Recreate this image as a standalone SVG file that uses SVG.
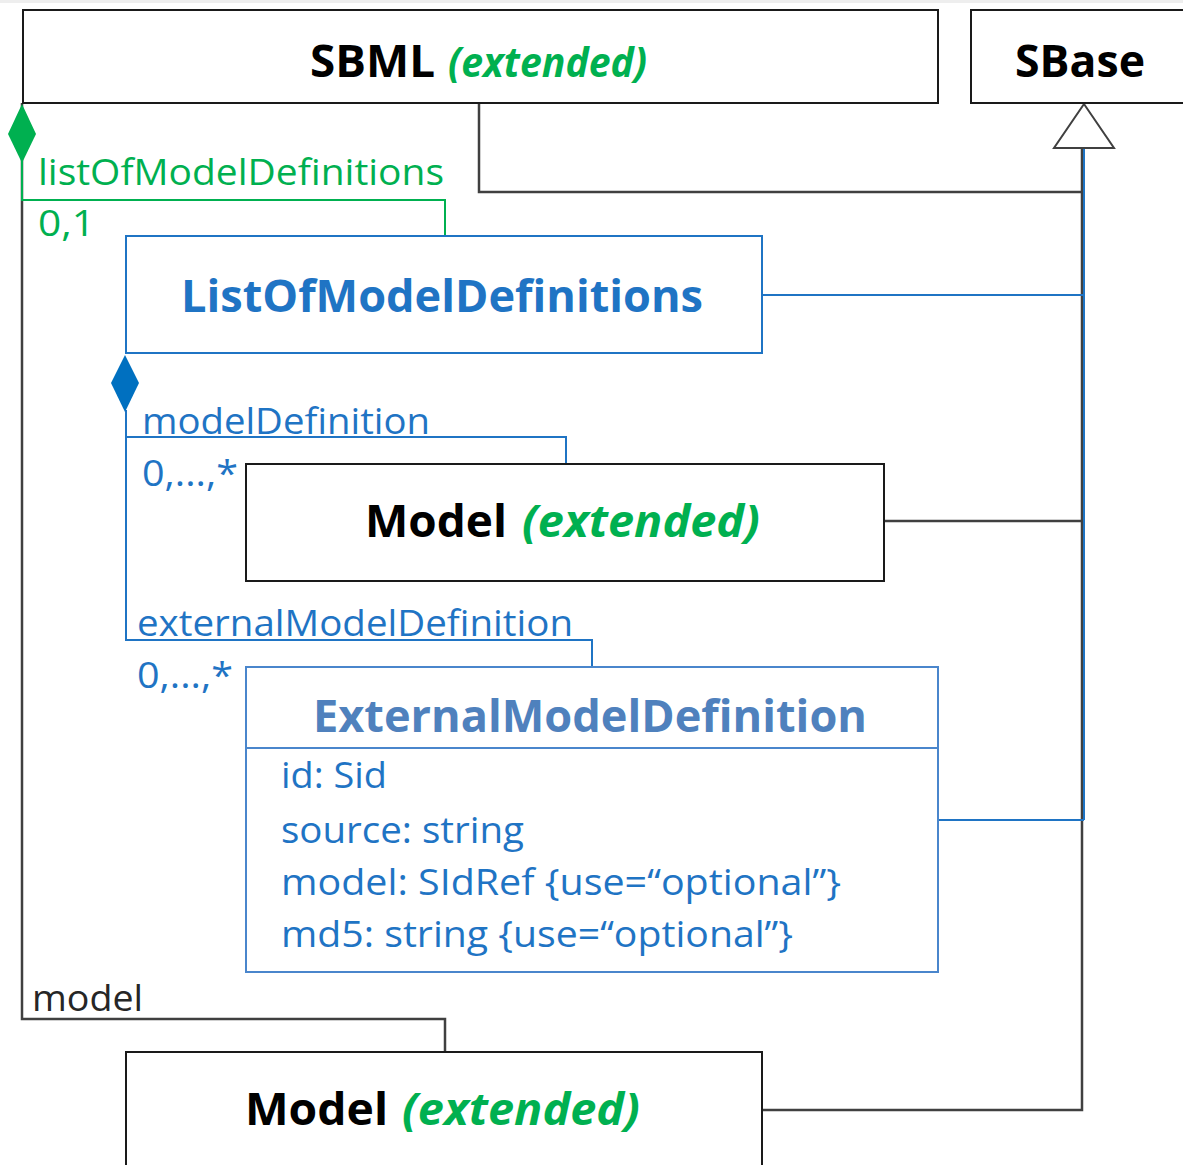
<svg xmlns="http://www.w3.org/2000/svg" width="1183" height="1165" viewBox="0 0 1183 1165">
<style>
text{font-family:"Open Sans","Liberation Sans",sans-serif}
.box{fill:#fff;stroke:#1a1a1a;stroke-width:2}
.bbox{fill:#fff;stroke:#1f74c4;stroke-width:2}
.ebox{fill:#fff;stroke:#4a86cc;stroke-width:2}
.title{font-weight:bold;font-size:44px;fill:#000}
.ext{font-weight:bold;font-style:italic;font-size:44px;fill:#00b050}
.dk{fill:none;stroke:#404040;stroke-width:2.5}
.bl{fill:none;stroke:#1f74c4;stroke-width:2}
.gr{fill:none;stroke:#00b050;stroke-width:2}
.lbl{font-size:36px}
.attr{font-size:36px;fill:#1f74c4}
</style>
<rect x="0" y="0" width="1183" height="1165" fill="#fff"/>
<rect x="0" y="0" width="1183" height="3" fill="#eeeeee"/>
<g id="connectors">
<polyline class="dk" points="479,103 479,192 1082,192"/>
<polyline class="dk" points="884,521 1082,521"/>
<polyline class="dk" points="762,1110 1082,1110 1082,148"/>
<line class="bl" x1="1084" y1="148" x2="1084" y2="820"/>
<line class="bl" x1="762" y1="295" x2="1083" y2="295"/>
<line class="bl" x1="938" y1="820" x2="1084" y2="820"/>
<polygon points="1084,104 1114,148 1054,148" fill="#fff" stroke="#404040" stroke-width="2"/>
<polyline class="dk" points="22,103 22,1019 445,1019 445,1052" stroke-width="2"/>
<polyline class="gr" points="22,160 22,200 445,200 445,236"/>
<polygon points="22,104 36,134 22,163 8,134" fill="#00b050"/>
<text x="38" y="185" class="lbl" fill="#00b050" textLength="406" lengthAdjust="spacingAndGlyphs">listOfModelDefinitions</text>
<text x="38" y="236" class="lbl" fill="#00b050" textLength="57" lengthAdjust="spacingAndGlyphs">0,1</text>
<polyline class="bl" points="126,410 126,640 592,640 592,667"/>
<polyline class="bl" points="126,437 566,437 566,464"/>
<polygon points="125,355 139,383 125,412 111,383" fill="#0070c0"/>
<text x="142" y="434" class="lbl" fill="#1f74c4" textLength="288" lengthAdjust="spacingAndGlyphs">modelDefinition</text>
<text x="142" y="486" class="lbl" fill="#1f74c4" textLength="96" lengthAdjust="spacingAndGlyphs">0,...,*</text>
<text x="137" y="636" class="lbl" fill="#1f74c4" textLength="436" lengthAdjust="spacingAndGlyphs">externalModelDefinition</text>
<text x="137" y="688" class="lbl" fill="#1f74c4" textLength="96" lengthAdjust="spacingAndGlyphs">0,...,*</text>
<text x="32" y="1011" class="lbl" fill="#262626" textLength="111" lengthAdjust="spacingAndGlyphs">model</text>
</g>
<g id="SBML">
<rect class="box" x="23" y="10" width="915" height="93"/>
<text x="310" y="77" class="title" textLength="125" lengthAdjust="spacingAndGlyphs">SBML</text>
<text x="448" y="77" class="ext" font-size="42" style="font-size:42px" textLength="199" lengthAdjust="spacingAndGlyphs">(extended)</text>
</g>
<g id="SBase">
<rect class="box" x="971" y="10" width="230" height="93"/>
<text x="1015" y="77" class="title" textLength="130" lengthAdjust="spacingAndGlyphs">SBase</text>
</g>
<g id="ListOfModelDefinitions">
<rect class="bbox" x="126" y="236" width="636" height="117"/>
<text x="181" y="312" class="title" style="fill:#1f74c4" textLength="522" lengthAdjust="spacingAndGlyphs">ListOfModelDefinitions</text>
</g>
<g id="Model1">
<rect class="box" x="246" y="464" width="638" height="117"/>
<text x="365" y="537" class="title" textLength="142" lengthAdjust="spacingAndGlyphs">Model</text>
<text x="522" y="537" class="ext" textLength="238" lengthAdjust="spacingAndGlyphs">(extended)</text>
</g>
<g id="ExternalModelDefinition">
<rect class="ebox" x="246" y="667" width="692" height="305"/>
<line x1="246" y1="748" x2="938" y2="748" stroke="#4a86cc" stroke-width="2"/>
<text x="313" y="732" class="title" style="fill:#4f81bd" textLength="554" lengthAdjust="spacingAndGlyphs">ExternalModelDefinition</text>
<text x="281" y="788" class="attr" textLength="106" lengthAdjust="spacingAndGlyphs">id: Sid</text>
<text x="281" y="843" class="attr" textLength="243" lengthAdjust="spacingAndGlyphs">source: string</text>
<text x="281" y="895" class="attr" textLength="560" lengthAdjust="spacingAndGlyphs">model: SIdRef {use=“optional”}</text>
<text x="281" y="947" class="attr" textLength="512" lengthAdjust="spacingAndGlyphs">md5: string {use=“optional”}</text>
</g>
<g id="Model2">
<rect class="box" x="126" y="1052" width="636" height="130"/>
<text x="245" y="1125" class="title" textLength="143" lengthAdjust="spacingAndGlyphs">Model</text>
<text x="402" y="1125" class="ext" textLength="238" lengthAdjust="spacingAndGlyphs">(extended)</text>
</g>
</svg>
